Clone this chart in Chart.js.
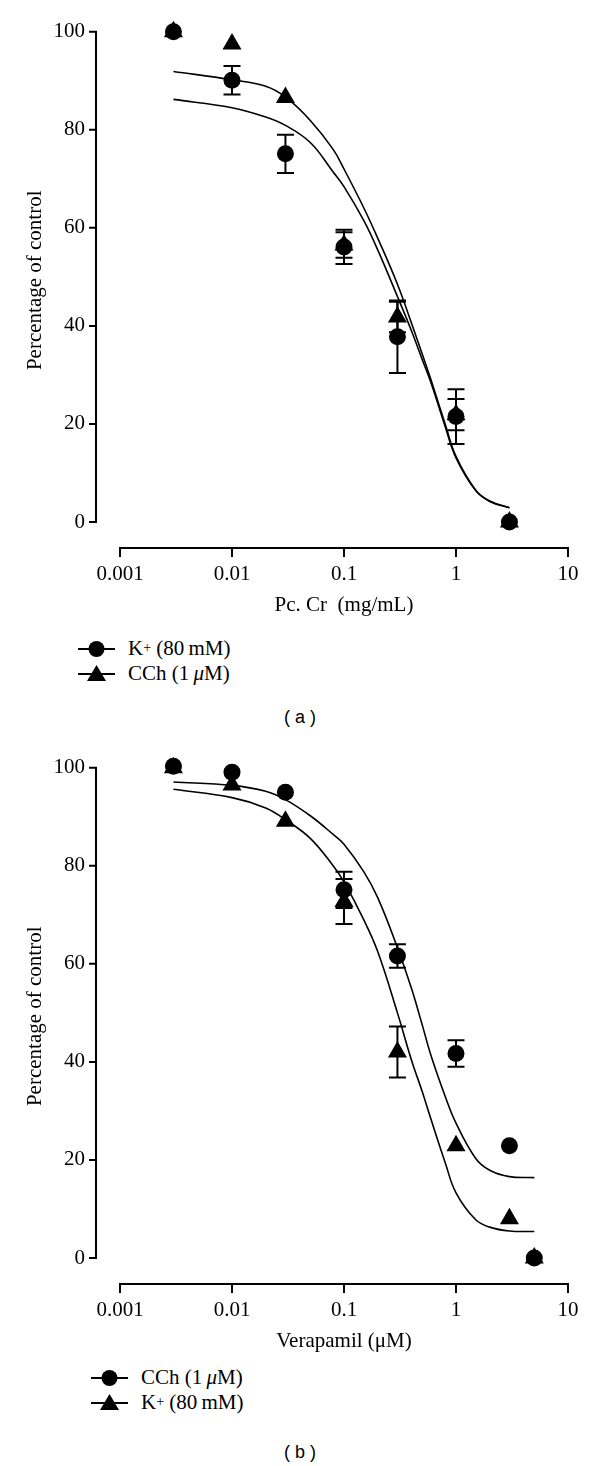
<!DOCTYPE html>
<html>
<head>
<meta charset="utf-8">
<script src="https://cdn.jsdelivr.net/npm/chart.js@4.4.1/dist/chart.umd.min.js"></script>
<style>
  body { margin: 0; width: 600px; height: 1466px; background: #fff; position: relative; font-family: "Liberation Serif", serif; color: #000; }
  canvas { position: absolute; left: 0; }
  .legend { position: absolute; font-size: 21px; }
  .legend div { height: 25px; display: flex; align-items: center; white-space: nowrap; }
  .legend svg { margin-right: 13px; }
  .legend sup { font-size: 14px; line-height: 0; position: relative; top: -1px; }
  .caption { position: absolute; left: 0; width: 600px; text-align: center; font-family: "Liberation Sans", sans-serif; font-size: 18px; line-height: 20px; }
</style>
</head>
<body>
<canvas id="chartA" width="600" height="625" style="top:0"></canvas>
<canvas id="chartB" width="600" height="625" style="top:736px"></canvas>

<div class="legend" style="left:78px; top:636px">
  <div><svg width="37" height="20"><line x1="0" y1="10" x2="37" y2="10" stroke="#000" stroke-width="2"/><circle cx="18.5" cy="10" r="8"/></svg>K<sup>+</sup>&nbsp;(80&#8201;mM)</div>
  <div><svg width="37" height="20"><line x1="0" y1="10" x2="37" y2="10" stroke="#000" stroke-width="2"/><polygon points="18.5,1 28,17 9,17"/></svg>CCh (1&#8201;<i>μ</i>M)</div>
</div>
<div class="caption" style="top:707px">( a )</div>

<div class="legend" style="left:91px; top:1365px">
  <div><svg width="37" height="20"><line x1="0" y1="10" x2="37" y2="10" stroke="#000" stroke-width="2"/><circle cx="18.5" cy="10" r="8"/></svg>CCh (1&#8201;<i>μ</i>M)</div>
  <div><svg width="37" height="20"><line x1="0" y1="10" x2="37" y2="10" stroke="#000" stroke-width="2"/><polygon points="18.5,1 28,17 9,17"/></svg>K<sup>+</sup>&nbsp;(80&#8201;mM)</div>
</div>
<div class="caption" style="top:1442px">( b )</div>

<script>
const xTicks = [0.001, 0.01, 0.1, 1, 10];
const yTicks = [0, 20, 40, 60, 80, 100];

// (a) Pc.Cr, mg/mL
const doseA = [0.003, 0.01, 0.03, 0.1, 0.3, 1, 3];
const kA = [100, 90.1, 75.1, 56.1, 37.8, 21.5, 0];
const kAErr = [0, 2.9, 3.9, 3.5, 7.4, 5.6, 0];
const cchA = [100, 97.5, 86.6, 56.5, 41.8, 21.9, 0];
const cchAErr = [0, 0, 0, 2.6, 3.1, 3.2, 0];
const fitDoseA = [0.003, 0.01, 0.02, 0.03, 0.05, 0.08, 0.1, 0.15, 0.2, 0.3, 0.4, 0.5, 0.6, 0.8, 1, 1.5, 2, 3];
const kFitA = [86.2, 84.5, 82.6, 80.9, 77.4, 71.4, 68.4, 61.5, 55.5, 46.0, 39.0, 33.1, 28.3, 19.5, 13.1, 6.4, 4.2, 2.9];
const cchFitA = [91.9, 90.2, 88.9, 86.7, 81.9, 76.0, 72.0, 64.1, 57.9, 48.5, 40.6, 34.2, 28.9, 20.0, 13.4, 6.5, 4.3, 2.9];

// (b) Verapamil, uM
const doseB = [0.003, 0.01, 0.03, 0.1, 0.3, 1, 3, 5];
const cchB = [100.3, 99.1, 95.0, 75.1, 61.6, 41.7, 22.9, 0];
const cchBErr = [0, 0, 0, 3.7, 2.4, 2.7, 0, 0];
const kB = [100, 96.5, 89.1, 72.7, 42.0, 22.9, 8.0, 0];
const kBErr = [0, 0, 0, 4.6, 5.2, 0, 0, 0];
const fitDoseB = [0.003, 0.01, 0.02, 0.03, 0.05, 0.08, 0.1, 0.15, 0.2, 0.3, 0.4, 0.5, 0.6, 0.8, 1, 1.5, 2, 3, 5];
const cchFitB = [97.1, 96.4, 95.2, 93.5, 90.2, 86.4, 84.4, 78.8, 73.5, 63.3, 55.0, 47.5, 41.2, 33.0, 27.5, 20.3, 17.9, 16.6, 16.4];
const kFitB = [95.6, 93.9, 91.8, 89.4, 85.6, 80.0, 76.7, 69.0, 62.5, 50.0, 40.4, 33.9, 28.2, 19.5, 13.3, 7.8, 6.3, 5.5, 5.4];

const serif = '"Liberation Serif", "Times New Roman", serif';
const toPoints = (xs, ys) => xs.map((x, i) => ({ x: x, y: ys[i] }));

// vertical error bars from each dataset's errors array
const errorBars = {
  id: 'errorBars',
  beforeDatasetsDraw(chart) {
    const { ctx, scales: { x, y } } = chart;
    ctx.save();
    ctx.strokeStyle = '#000';
    ctx.lineWidth = 2;
    chart.data.datasets.forEach(ds => {
      if (!ds.errors) return;
      ds.data.forEach((p, j) => {
        const e = ds.errors[j];
        if (!e) return;
        const px = x.getPixelForValue(p.x);
        const top = y.getPixelForValue(p.y + e);
        const bot = y.getPixelForValue(p.y - e);
        ctx.beginPath();
        ctx.moveTo(px, top); ctx.lineTo(px, bot);
        ctx.moveTo(px - 8.5, top); ctx.lineTo(px + 8.5, top);
        ctx.moveTo(px - 8.5, bot); ctx.lineTo(px + 8.5, bot);
        ctx.stroke();
      });
    });
    ctx.restore();
  }
};

// y axis line sits left of the plot, from 0 to 100 only
const offsetYAxis = {
  id: 'offsetYAxis',
  afterDraw(chart) {
    const { ctx, chartArea, scales: { y } } = chart;
    const ax = chartArea.left - 24;
    ctx.save();
    ctx.strokeStyle = '#000';
    ctx.lineWidth = 2;
    ctx.beginPath();
    ctx.moveTo(ax, y.getPixelForValue(yTicks[yTicks.length - 1]) - 1);
    ctx.lineTo(ax, y.getPixelForValue(yTicks[0]) + 1);
    yTicks.forEach(v => {
      const py = y.getPixelForValue(v);
      ctx.moveTo(ax - 7, py);
      ctx.lineTo(ax, py);
    });
    ctx.stroke();
    ctx.restore();
  }
};

function makeChart(id, xTitle, series) {
  const datasets = [];
  series.forEach(s => {
    datasets.push({
      label: s.label,
      data: toPoints(s.dose, s.values),
      errors: s.errors,
      showLine: false,
      pointStyle: s.style,
      pointRadius: s.style === 'triangle' ? 11 : 8.5,
      backgroundColor: '#000',
      borderColor: '#000',
      borderWidth: 0,
      clip: false,
      order: 0
    });
  });
  series.forEach(s => {
    datasets.push({
      label: s.label + ' fit',
      data: toPoints(s.fitDose, s.fit),
      showLine: true,
      pointRadius: 0,
      borderColor: '#000',
      borderWidth: 1.6,
      tension: 0.4,
      clip: false,
      order: 1
    });
  });

  return new Chart(document.getElementById(id), {
    type: 'scatter',
    data: { datasets },
    options: {
      responsive: false,
      animation: false,
      layout: { padding: { top: 12, left: 20, right: 32, bottom: 7 } },
      plugins: { legend: { display: false }, tooltip: { enabled: false } },
      scales: {
        x: {
          type: 'logarithmic',
          min: 0.001,
          max: 10,
          afterBuildTicks: s => { s.ticks = xTicks.map(v => ({ value: v })); },
          afterFit: s => { s.height = 70; },
          ticks: { color: '#000', font: { family: serif, size: 21 }, padding: 5, maxRotation: 0, autoSkip: false,
                   callback: v => String(v) },
          grid: { drawOnChartArea: false, drawTicks: true, tickLength: 9, color: '#000', lineWidth: 2 },
          border: { display: true, color: '#000', width: 2 },
          title: { display: true, text: xTitle, color: '#000', font: { family: serif, size: 21 }, padding: { top: 0, bottom: 0 } }
        },
        y: {
          min: -5.3,
          max: 103.9,
          afterBuildTicks: s => { s.ticks = yTicks.map(v => ({ value: v })); },
          afterFit: s => { s.width = 100; },
          ticks: { color: '#000', font: { family: serif, size: 21 }, padding: 0 },
          // marks are drawn by offsetYAxis; tickLength only pushes the labels left
          grid: { display: false, drawTicks: true, tickLength: 35 },
          border: { display: false },
          title: { display: true, text: 'Percentage of control', color: '#000', font: { family: serif, size: 21 }, padding: { top: 3, bottom: 0 } }
        }
      }
    },
    plugins: [errorBars, offsetYAxis]
  });
}

makeChart('chartA', 'Pc. Cr  (mg/mL)', [
  { label: 'K+ (80 mM)', style: 'circle', dose: doseA, values: kA, errors: kAErr, fitDose: fitDoseA, fit: kFitA },
  { label: 'CCh (1 μM)', style: 'triangle', dose: doseA, values: cchA, errors: cchAErr, fitDose: fitDoseA, fit: cchFitA }
]);

makeChart('chartB', 'Verapamil (μM)', [
  { label: 'CCh (1 μM)', style: 'circle', dose: doseB, values: cchB, errors: cchBErr, fitDose: fitDoseB, fit: cchFitB },
  { label: 'K+ (80 mM)', style: 'triangle', dose: doseB, values: kB, errors: kBErr, fitDose: fitDoseB, fit: kFitB }
]);
</script>
</body>
</html>
